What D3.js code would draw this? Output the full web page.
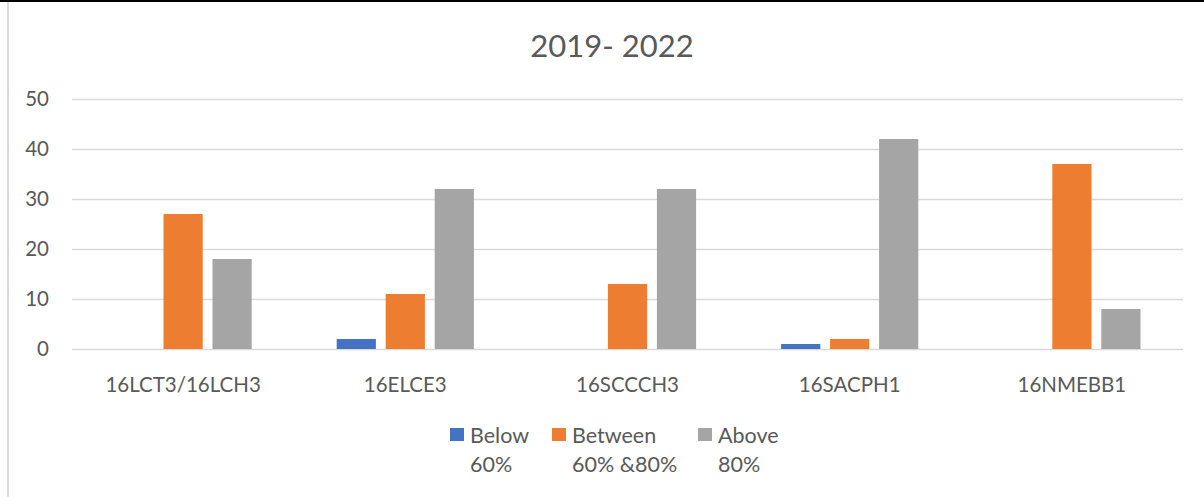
<!DOCTYPE html>
<html><head><meta charset="utf-8">
<script src="https://cdn.jsdelivr.net/npm/d3@7"></script>
<style>body{margin:0;background:#fff}svg{display:block}</style>
</head><body>
<script>
const categories = ["16LCT3/16LCH3","16ELCE3","16SCCCH3","16SACPH1","16NMEBB1"];
const seriesNames = [["Below","60%"],["Between","60% &80%"],["Above","80%"]];
const below = [0, 2, 0, 1, 0];
const between = [27, 11, 13, 2, 37];
const above = [18, 32, 32, 42, 8];
const yTicks = [0, 10, 20, 30, 40, 50];
const colors = ["#4472C4", "#ED7D31", "#A5A5A5"];
const title = "2019- 2022";

const W = 1204, H = 497;
const svg = d3.select("body").append("svg").attr("width", W).attr("height", H);
const font = "Lato, 'Open Sans', sans-serif";
const textColor = "#595959";

// frame
svg.append("rect").attr("x",0).attr("y",0).attr("width",W).attr("height",2).attr("fill","#000");
svg.append("rect").attr("x",7).attr("y",2).attr("width",2).attr("height",H-2).attr("fill","#d9d9d9");

const x0 = d3.scaleBand().domain(categories).range([72, 1183]).paddingInner(0).paddingOuter(0);
const y = d3.scaleLinear().domain([0, 50]).range([349, 99]);
const series = [below, between, above];
const x1 = d3.scaleBand().domain([0,1,2]).range([42.5, 222.2-42.5]).paddingInner(0.2);

// gridlines
svg.append("g").selectAll("line").data(yTicks).join("line")
  .attr("x1", 72).attr("x2", 1183)
  .attr("y1", d => y(d)+0.5).attr("y2", d => y(d)+0.5)
  .attr("stroke", "#d9d9d9").attr("stroke-width", 1.5);

// y labels
svg.append("g").selectAll("text").data(yTicks).join("text")
  .attr("x", 49).attr("y", d => y(d)).attr("dy", "0.35em")
  .attr("text-anchor", "end").attr("font-family", font).attr("font-size", 20.5)
  .attr("fill", textColor).text(d => d);

// bars
const g = svg.append("g");
categories.forEach((c, ci) => {
  series.forEach((s, si) => {
    g.append("rect")
      .attr("x", x0(c) + x1(si)).attr("width", x1.bandwidth())
      .attr("y", y(s[ci])).attr("height", y(0) - y(s[ci]))
      .attr("fill", colors[si]);
  });
});

// x labels
svg.append("g").selectAll("text").data(categories).join("text")
  .attr("x", d => x0(d) + x0.bandwidth()/2).attr("y", 392)
  .attr("text-anchor", "middle").attr("font-family", font).attr("font-size", 20.5)
  .attr("fill", textColor).text(d => d);

// title
svg.append("text").attr("x", 612).attr("y", 57).attr("text-anchor", "middle")
  .attr("font-family", font).attr("font-size", 31).attr("fill", textColor).text(title);

// legend
const legX = [450, 552, 698];
seriesNames.forEach((nm, i) => {
  svg.append("rect").attr("x", legX[i]).attr("y", 428).attr("width", 14).attr("height", 13).attr("fill", colors[i]);
  const t = svg.append("text").attr("font-family", font).attr("font-size", 21.5).attr("fill", textColor);
  t.append("tspan").attr("x", legX[i] + 20).attr("y", 443).text(nm[0]);
  t.append("tspan").attr("x", legX[i] + 20).attr("y", 472).text(nm[1]);
});
</script>
</body></html>
